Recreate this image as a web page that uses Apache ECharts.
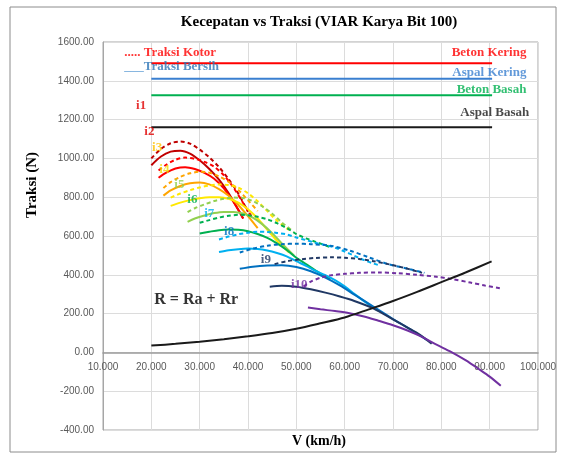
<!DOCTYPE html>
<html>
<head>
<meta charset="utf-8">
<script src="https://cdn.jsdelivr.net/npm/echarts/dist/echarts.min.js"></script>
<style>
html,body{margin:0;padding:0;background:#fff;}
#chart{width:566px;height:457px;}
</style>
</head>
<body>
<div id="chart"></div>
<script>
// sumbu
var xMin = 10, xMax = 100, xStep = 10;
var yMin = -400, yMax = 1600, yStep = 200;

// traksi bersih (garis penuh) per gigi  [V km/h, N]
var i1Bersih = [[20,965],[22,1010],[24,1035],[26,1040],[28,1025],[30,990],[32,945],[34,890],[36,820],[38,735],[39,690]];
var i2Bersih = [[21.5,900],[23,925],[25,948],[27,955],[29,945],[31,925],[33,895],[35,845],[37,775],[39,690]];
var i3Bersih = [[22.5,808],[24,835],[26,858],[28,872],[30,876],[32,866],[34,842],[36,808],[38,760],[40,702],[42,640]];
var i4Bersih = [[24,755],[26,772],[28,785],[30,795],[32,800],[34,800],[36,792],[38,772],[40,738],[42,690],[44,632],[46,575],[48.5,515]];
var i5Bersih = [[27.5,673],[29,690],[31,706],[33,718],[35,724],[37,724],[39,716],[41,695],[43,660],[45,615],[47,562],[49.5,500]];
var i6Bersih = [[30,613],[32,622],[34,630],[36,633],[38,632],[40,625],[42,610],[44,590],[46,562],[48,528],[50,488],[52,455],[54,422],[57,378]];
var i7Bersih = [[34,517],[36,526],[38,532],[40,535],[42,533],[44,525],[46,512],[48,495],[50,470],[52,446],[54,420],[56,398],[58,372],[60,340],[62,302],[64,264],[66,230],[67,215]];
var i8Bersih = [[38.3,431],[41,442],[44,448],[47,449],[50,440],[53,418],[56,385],[59,345],[62,298],[66,235],[70,172],[73,128],[77,65]];
var i9Bersih = [[44.5,339],[47,343],[50,338],[53,325],[56,308],[59,288],[62,265],[66,226],[70,170],[73,128],[75.5,92],[78,45]];
var i10Bersih = [[52.4,231],[55,222],[58,213],[61,202],[64,185],[67,163],[70,140],[73,113],[76,80],[79,40],[82,3],[85,-40],[88,-90],[90,-125],[92.3,-172]];

// traksi kotor (garis putus-putus)
var i1Kotor = [[20,1000],[22,1049],[24,1078],[26,1087],[28,1076],[30,1045],[32,1005],[34,955],[36,893],[38,818],[40,725]];
var i2Kotor = [[21.5,938],[23,966],[25,993],[27,1004],[29,998],[31,982],[33,957],[35,913],[37,849],[39,770],[41,690]];
var i3Kotor = [[22.5,847],[24,878],[26,905],[28,923],[30,931],[32,926],[34,907],[36,879],[38,837],[40,784],[42,729]];
var i4Kotor = [[24,798],[26,819],[28,836],[30,850],[32,860],[34,865],[36,863],[38,849],[40,820],[42,779],[44,728],[46,679],[48.5,631]];
var i5Kotor = [[27.5,723],[29,743],[31,763],[33,780],[35,792],[37,798],[39,796],[41,780],[43,752],[45,715],[47,670],[49.5,620]];
var i6Kotor = [[30,668],[32,682],[34,695],[36,704],[38,709],[40,707],[42,699],[44,686],[46,666],[48,641],[50,610],[52,588],[54,570],[57,543]];
var i7Kotor = [[34,582],[36,597],[38,609],[40,617],[42,622],[44,621],[46,616],[48,608],[50,592],[52,579],[54,564],[56,554],[58,540],[60,520],[62,498],[64,476],[66,458],[67,450]];
var i8Kotor = [[38.3,515],[41,535],[44,550],[47,558],[50,560],[53,558],[57,550],[61,525],[65,490],[69,455],[73,432],[76.5,410]];
var i9Kotor = [[45.5,455],[48,470],[51,480],[54,487],[57,490],[60,488],[63,482],[66,470],[69,455],[72,438],[76,410]];
var i10Kotor = [[51.5,340],[53,365],[55,385],[57,397],[60,405],[63,410],[67,412],[71,408],[75,400],[79,390],[82,379],[86,360],[89,345],[92.3,330]];

// hambatan R = Ra + Rr
var resistance = [[20,35],[25,44],[30,55],[35,68],[40,83],[45,100],[50,122],[55,150],[60,180],[65,222],[70,265],[75,312],[80,362],[85,412],[90.4,469]];

// batas traksi jalan
var roadNames = ['Beton Kering','Aspal Kering','Beton Basah','Aspal Basah'];
var roadLimit = [1490, 1410, 1325, 1160];
var roadRange = [20, 90.5];

var gearNames = ['i1','i2','i3','i4','i5','i6','i7','i8','i9','i10'];
var gearLabelPos = [[18,1268],[19.7,1136],[21.3,1052],[22.8,939],[25.9,861],[28.6,784],[32.1,715],[36.2,621],[43.8,478],[50.7,346]];
var roadLabelPos = [[97.7,1542],[97.7,1440],[97.7,1351],[98.3,1231]];

var gearBersih = [i1Bersih,i2Bersih,i3Bersih,i4Bersih,i5Bersih,i6Bersih,i7Bersih,i8Bersih,i9Bersih,i10Bersih];
var gearKotor = [i1Kotor,i2Kotor,i3Kotor,i4Kotor,i5Kotor,i6Kotor,i7Kotor,i8Kotor,i9Kotor,i10Kotor];
var gearColors = ['#C00000','#FF0000','#FFA500','#FFE800','#92D050','#00B050','#00B0F0','#0070C0','#203864','#7030A0'];
var gearLabelColors = ['#E00000','#E00000','#FFC000','#F2DC00','#92D050','#00B050','#00B0F0','#0070C0','#203864','#7030A0'];
var roadColors = ['#FF0000','#3A7FD0','#00B050','#1A1A1A'];
var roadLabelColors = ['#FF0000','#3A7FD0','#00B050','#1A1A1A'];

var serif = '"Liberation Serif", "DejaVu Serif", serif';

function lineSeries(name, data, color, dashed){
    return {
        name: name,
        type: 'line',
        data: data,
        symbol: 'none',
        smooth: 0.3,
        silent: true,
        lineStyle: {color: color, width: 2, type: dashed ? [4,3] : 'solid'}
    };
}

var series = [];
for(var i=0;i<gearBersih.length;i++){
    series.push(lineSeries(gearNames[i]+' bersih', gearBersih[i], gearColors[i], false));
    series.push(lineSeries(gearNames[i]+' kotor', gearKotor[i], gearColors[i], true));
}
series.push(lineSeries('R', resistance, '#1A1A1A', false));
for(var j=0;j<roadLimit.length;j++){
    series.push(lineSeries(roadNames[j], [[roadRange[0],roadLimit[j]],[roadRange[1],roadLimit[j]]], roadColors[j], false));
}

// teks di dalam grafik
var textData = [];
for(var k=0;k<gearNames.length;k++){
    textData.push({value: gearLabelPos[k], txt: gearNames[k],
        label: {color: gearLabelColors[k], align: 'center', fontSize: 13}});
}
for(var m=0;m<roadNames.length;m++){
    textData.push({value: roadLabelPos[m], txt: roadNames[m],
        label: {color: roadLabelColors[m], align: 'right', fontSize: 13}});
}
textData.push({value: [14.5,1540], txt: '..... Traksi Kotor', label: {color: '#FF0000', align: 'left', fontSize: 13}});
textData.push({value: [14.5,1470], txt: '{u|___}{t|Traksi Bersih}', label: {align: 'left', fontSize: 13,
    rich: {u: {color: '#5B9BD5', fontSize: 13, fontFamily: serif, fontWeight: 'bold'},
           t: {color: '#2E75B6', fontSize: 13, fontFamily: serif, fontWeight: 'bold'}}}});
textData.push({value: [20.7,269], txt: 'R = Ra + Rr', label: {color: '#000', align: 'left', fontSize: 16}});

series.push({
    type: 'scatter',
    data: textData,
    symbolSize: 1,
    silent: true,
    itemStyle: {color: 'rgba(0,0,0,0)'},
    label: {
        show: true,
        position: [0, 0],
        verticalAlign: 'middle',
        fontFamily: serif,
        fontWeight: 'bold',
        formatter: function(p){ return p.data.txt; }
    },
    z: 10
});

var gridTop = 42, gridBottom = 27, chartH = 457;
// sumbu X memotong di 0 (seperti Excel), geser label ke garis nol
var zeroOffset = -(chartH - gridTop - gridBottom) * (0 - yMin) / (yMax - yMin);

var chart = echarts.init(document.getElementById('chart'));
var option = {
    animation: false,
    backgroundColor: '#fff',
    grid: {left: 103, right: 28, top: gridTop, bottom: gridBottom, show: true, borderColor: '#A6A6A6', borderWidth: 1},
    xAxis: {
        type: 'value', min: xMin, max: xMax, interval: xStep,
        offset: zeroOffset,
        axisLine: {onZero: false, lineStyle: {color: '#9A9A9A', width: 1.5}},
        axisTick: {show: false},
        axisLabel: {color: '#595959', fontSize: 10, fontFamily: '"Liberation Sans", Arial', margin: 10,
            formatter: function(v){ return v.toFixed(3); }},
        splitLine: {show: true, lineStyle: {color: '#DCDCDC'}}
    },
    yAxis: {
        type: 'value', min: yMin, max: yMax, interval: yStep,
        axisLine: {show: true, onZero: false, lineStyle: {color: '#A6A6A6'}},
        axisTick: {show: false},
        axisLabel: {color: '#595959', fontSize: 10, fontFamily: '"Liberation Sans", Arial', margin: 9,
            formatter: function(v){ return v.toFixed(2); }},
        splitLine: {show: true, lineStyle: {color: '#DCDCDC'}}
    },
    graphic: [
        {type: 'rect', shape: {x: 10, y: 7, width: 546, height: 445}, style: {fill: 'none', stroke: '#8C8C8C', lineWidth: 1}},
        {type: 'text', x: 319, y: 22, style: {text: 'Kecepatan vs Traksi (VIAR Karya Bit 100)', font: 'bold 15px ' + serif, fill: '#000', align: 'center', verticalAlign: 'middle'}},
        {type: 'text', x: 32, y: 185, rotation: Math.PI/2, style: {text: 'Traksi (N)', font: 'bold 15px ' + serif, fill: '#000', align: 'center', verticalAlign: 'middle'}},
        {type: 'text', x: 319, y: 441, style: {text: 'V (km/h)', font: 'bold 14px ' + serif, fill: '#000', align: 'center', verticalAlign: 'middle'}}
    ],
    series: series
};
chart.setOption(option);
</script>
</body>
</html>
